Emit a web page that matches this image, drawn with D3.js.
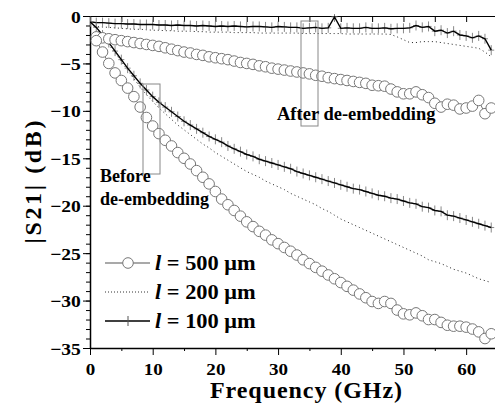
<!DOCTYPE html>
<html>
<head>
<meta charset="utf-8">
<script src="https://cdn.jsdelivr.net/npm/d3@7"></script>
<style>
  body { margin: 0; background: #fff; }
  svg { display: block; font-family: "Liberation Serif", "Times New Roman", serif; font-weight: bold; }
</style>
</head>
<body>
<div id="chart"></div>
<script>
// Frequencies (GHz)
const freqLine = [0,1,2,3,4,5,6,7,8,9,10,11,12,13,14,15,16,17,18,19,20,21,22,23,24,25,26,27,28,29,30,31,32,
  33,34,35,36,37,38,39,40,41,42,43,44,45,46,47,48,49,50,51,52,53,54,55,56,57,58,59,60,61,62,63,64];
const freqCircle = freqLine.slice(1);

// After de-embedding |S21| (dB)
const after100 = [-0.6,-0.7,-0.7,-0.75,-0.8,-0.8,-0.85,-0.85,-0.9,-0.9,-0.9,-0.95,-0.95,-1.0,-0.95,-1.0,-1.0,
  -1.05,-1.0,-1.05,-1.1,-1.05,-1.1,-1.05,-1.1,-1.15,-1.1,-1.1,-1.15,-1.2,-1.1,-1.15,-1.2,-1.2,-1.3,-1.25,-1.2,
  -1.3,-1.25,-0.1,-1.3,-1.25,-1.3,-1.3,-1.2,-1.3,-1.3,-1.25,-1.35,-1.3,-1.3,-1.25,-1.0,-1.2,-1.1,-1.6,-1.5,
  -1.8,-1.6,-2.0,-2.1,-2.3,-2.1,-2.4,-3.6];
const after200 = [-1.0,-1.1,-1.15,-1.2,-1.25,-1.3,-1.35,-1.4,-1.4,-1.45,-1.5,-1.5,-1.55,-1.55,-1.6,-1.6,-1.6,
  -1.65,-1.65,-1.7,-1.7,-1.7,-1.7,-1.75,-1.75,-1.75,-1.75,-1.8,-1.8,-1.8,-1.8,-1.8,-1.8,-1.8,-1.85,-1.85,-1.85,
  -1.85,-1.85,-1.85,-1.85,-1.9,-1.9,-1.9,-1.9,-1.9,-1.9,-1.9,-1.95,-2.2,-2.5,-2.8,-2.8,-2.7,-2.7,-2.7,-2.8,
  -2.9,-3.0,-3.1,-3.2,-3.3,-3.4,-3.8,-4.3];
const after500 = [-2.2,-2.3,-2.4,-2.5,-2.6,-2.7,-2.8,-2.9,-3.0,-3.1,-3.2,-3.35,-3.5,-3.65,-3.8,-3.9,-4.05,
  -4.15,-4.3,-4.4,-4.5,-4.6,-4.75,-4.9,-5.0,-5.1,-5.25,-5.35,-5.5,-5.6,-5.7,-5.8,-5.9,-6.0,-6.1,-6.25,-6.35,
  -6.5,-6.6,-6.7,-6.8,-6.9,-7.0,-7.1,-7.3,-7.35,-7.4,-7.7,-8.0,-8.2,-8.2,-8.0,-8.3,-8.6,-9.2,-9.6,-9.3,-9.4,
  -9.8,-9.7,-9.5,-8.9,-10.3,-9.7];

// Before de-embedding |S21| (dB)
const before100 = [-0.6,-1.2,-2.0,-2.8,-3.7,-4.6,-5.5,-6.3,-7.1,-7.8,-8.5,-9.1,-9.6,-10.1,-10.6,-11.1,-11.5,
  -11.9,-12.3,-12.7,-13.0,-13.3,-13.7,-14.0,-14.3,-14.6,-14.8,-15.1,-15.3,-15.5,-15.7,-15.9,-16.1,-16.4,-16.6,
  -16.8,-17.0,-17.2,-17.4,-17.6,-17.8,-18.0,-18.2,-18.3,-18.5,-18.7,-18.9,-19.0,-19.2,-19.3,-19.5,-19.7,-19.8,
  -20.1,-20.2,-20.5,-20.6,-21.0,-21.1,-21.3,-21.5,-21.7,-21.9,-22.1,-22.3];
const before200 = [-0.7,-1.3,-2.1,-3.0,-3.9,-4.8,-5.7,-6.6,-7.5,-8.3,-9.0,-9.7,-10.3,-10.9,-11.5,-12.0,-12.5,
  -13.0,-13.5,-13.9,-14.4,-14.8,-15.2,-15.6,-16.0,-16.4,-16.7,-17.0,-17.4,-17.7,-18.0,-18.3,-18.7,-19.0,-19.3,
  -19.6,-19.9,-20.3,-20.6,-21.0,-21.4,-21.7,-22.0,-22.3,-22.6,-22.9,-23.2,-23.5,-23.8,-24.1,-24.4,-24.7,-25.0,
  -25.3,-25.7,-25.9,-26.1,-26.4,-26.7,-26.9,-27.1,-27.4,-27.7,-27.9,-28.1];
const before500 = [-2.6,-3.8,-5.0,-6.0,-6.8,-7.6,-8.5,-9.6,-10.7,-11.6,-12.4,-13.1,-13.7,-14.4,-15.0,-15.6,
  -16.3,-17.0,-17.7,-18.5,-19.3,-19.9,-20.5,-21.1,-21.7,-22.2,-22.7,-23.1,-23.6,-24.0,-24.4,-24.8,-25.2,-25.7,
  -26.1,-26.5,-26.9,-27.3,-27.7,-28.1,-28.5,-28.9,-29.3,-29.7,-30.1,-30.3,-30.1,-30.3,-31.0,-31.4,-31.5,-31.3,
  -31.6,-32.0,-32.0,-32.3,-32.6,-32.7,-32.7,-32.8,-33.0,-33.3,-34.0,-33.5];

const legendLabels = ["500", "200", "100"];
const xMajor = [0, 10, 20, 30, 40, 50, 60];
const xMinor = [5, 15, 25, 35, 45, 55];
const xTop = [0, 5, 10, 15, 20, 25, 30, 35, 40, 45, 50, 55, 60, 65];
const yMajor = [0, -5, -10, -15, -20, -25, -30, -35];

const W = 495, H = 410;
const svg = d3.select("#chart").append("svg")
  .attr("width", W)
  .attr("height", H);

const x = d3.scaleLinear().domain([0, 65]).range([90, 497.5]);
const y = d3.scaleLinear().domain([-35, 0]).range([348, 16]);

svg.append("clipPath").attr("id", "clip")
  .append("rect").attr("x", 90).attr("y", 14).attr("width", 410).attr("height", 336);

// axes
const tickFont = g => g.selectAll("text")
  .attr("fill", "#000")
  .style("font-size", "17px")
  .style("font-weight", "bold")
  .style("font-family", "'Liberation Serif', serif");

svg.append("g")
  .attr("transform", `translate(90,0)`)
  .call(d3.axisLeft(y).tickValues(d3.range(-35, 1, 1)).tickSize(4).tickSizeOuter(0).tickFormat(""))
  .call(g => g.select(".domain").remove());

svg.append("g")
  .attr("transform", `translate(90,0)`)
  .call(d3.axisLeft(y).tickValues(yMajor).tickSize(7).tickSizeOuter(0).tickPadding(1))
  .call(tickFont)
  .call(g => g.selectAll("text").attr("transform", "scale(1.15,1)").attr("dy", "0.36em"))
  .call(g => g.select(".domain").attr("stroke-width", 1.5));

svg.append("g")
  .attr("transform", `translate(0,348)`)
  .call(d3.axisBottom(x).tickValues(xMinor).tickSize(3).tickFormat(""))
  .call(g => g.select(".domain").remove());

svg.append("g")
  .attr("transform", `translate(0,348)`)
  .call(d3.axisBottom(x).tickValues(xMajor).tickSize(7).tickSizeOuter(0).tickPadding(8))
  .call(tickFont)
  .call(g => g.selectAll("text").attr("transform", "scale(1.12,1)"))
  .call(g => g.select(".domain").attr("stroke-width", 1.5));

svg.append("g")
  .attr("transform", `translate(0,16)`)
  .call(d3.axisBottom(x).tickValues(xTop).tickSize(6).tickSizeOuter(0).tickFormat(""))
  .call(g => g.select(".domain").attr("stroke-width", 1.2));

// axis titles
svg.append("text")
  .attr("x", 306).attr("y", 398)
  .attr("text-anchor", "middle")
  .attr("textLength", 192)
  .style("font-size", "24px")
  .text("Frequency (GHz)");

svg.append("text")
  .attr("transform", "translate(41,182) rotate(-90)")
  .attr("text-anchor", "middle")
  .attr("textLength", 123)
  .style("font-size", "24px")
  .text("|S21| (dB)");

// curves
const plot = svg.append("g").attr("clip-path", "url(#clip)");
const pts = (fs, vs) => fs.map((f, i) => [f, vs[i]]);
const line = d3.line().x(d => x(d[0])).y(d => y(d[1]));

function plusSeries(data) {
  plot.append("g").selectAll("path")
    .data(data)
    .join("path")
      .attr("transform", d => `translate(${x(d[0])},${y(d[1])})`)
      .attr("d", "M0,-5V5M-3,0H3")
      .attr("stroke", "#888")
      .attr("stroke-width", 1);
  plot.append("path")
    .datum(data)
    .attr("fill", "none")
    .attr("stroke", "#000")
    .attr("stroke-width", 1.4)
    .attr("d", line);
}

function dottedSeries(data) {
  plot.append("path")
    .datum(data)
    .attr("fill", "none")
    .attr("stroke", "#222")
    .attr("stroke-width", 1)
    .attr("stroke-dasharray", "1,3")
    .attr("d", line);
}

function circleSeries(data) {
  plot.append("path")
    .datum(data)
    .attr("fill", "none")
    .attr("stroke", "#777")
    .attr("stroke-width", 1)
    .attr("d", line);
  plot.append("g").selectAll("circle")
    .data(data)
    .join("circle")
      .attr("cx", d => x(d[0]))
      .attr("cy", d => y(d[1]))
      .attr("r", 5.3)
      .attr("fill", "#fff")
      .attr("stroke", "#777")
      .attr("stroke-width", 1);
}

dottedSeries(pts(freqLine, after200));
dottedSeries(pts(freqLine, before200));
plusSeries(pts(freqLine, after100));
plusSeries(pts(freqLine, before100));
circleSeries(pts(freqCircle, after500));
circleSeries(pts(freqCircle, before500));

// annotation boxes
svg.append("rect")
  .attr("x", 143).attr("y", 84).attr("width", 17).attr("height", 90)
  .attr("fill", "none").attr("stroke", "#888").attr("stroke-width", 1);
svg.append("rect")
  .attr("x", 301).attr("y", 21).attr("width", 17).attr("height", 105)
  .attr("fill", "none").attr("stroke", "#888").attr("stroke-width", 1);

svg.append("text").attr("x", 100).attr("y", 182).style("font-size", "18px").text("Before");
svg.append("text").attr("x", 100).attr("y", 205).style("font-size", "18px").text("de-embedding");
svg.append("text").attr("x", 277).attr("y", 120).style("font-size", "18.5px").text("After de-embedding");

// legend
const legendY = [263, 292, 321];
const leg = svg.append("g");
legendLabels.forEach((lab, i) => {
  const ly = legendY[i];
  const l = leg.append("line")
    .attr("x1", 105).attr("x2", 150).attr("y1", ly).attr("y2", ly);
  if (i === 0) {
    l.attr("stroke", "#555").attr("stroke-width", 1.2);
    leg.append("circle").attr("cx", 128).attr("cy", ly).attr("r", 5.3)
      .attr("fill", "#fff").attr("stroke", "#777");
  } else if (i === 1) {
    l.attr("stroke", "#333").attr("stroke-dasharray", "1,2");
  } else {
    l.attr("stroke", "#000").attr("stroke-width", 1.3);
    leg.append("path").attr("transform", `translate(128,${ly})`)
      .attr("d", "M0,-5V5").attr("stroke", "#555");
  }
  const t = leg.append("text")
    .attr("transform", `translate(155,${ly + 7}) scale(1.12,1)`)
    .style("font-size", "20px");
  t.append("tspan").style("font-style", "italic").text("l");
  t.append("tspan").text(" = " + lab + " \u03bcm");
});
</script>
</body>
</html>
